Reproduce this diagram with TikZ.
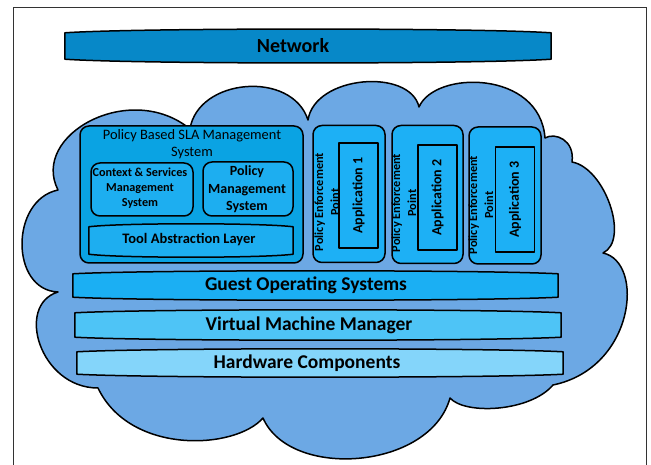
\documentclass[tikz,border=0pt]{standalone}
\usepackage{fontspec}
\setmainfont{Carlito}
\usetikzlibrary{calc}
\definecolor{cloudblue}{HTML}{6CA8E4}
\definecolor{netblue}{HTML}{0788C8}
\definecolor{slablue}{HTML}{0AA3E3}
\definecolor{innerblue}{HTML}{1DAEF0}
\definecolor{pepblue}{HTML}{1DB0F5}
\definecolor{gosblue}{HTML}{1BAFF3}
\definecolor{vmmblue}{HTML}{4EC4F6}
\definecolor{hwblue}{HTML}{84D5FA}
\newcommand\lensshape[3]{%
 \draw[outl, fill=#3] (#1.north west)
  .. controls ($(#1.north west)!0.15!(#1.north east)+(0,#2)$) and ($(#1.north west)!0.85!(#1.north east)+(0,#2)$) .. (#1.north east)
  -- (#1.south east)
  .. controls ($(#1.south west)!0.85!(#1.south east)+(0,-#2)$) and ($(#1.south west)!0.15!(#1.south east)+(0,-#2)$) .. (#1.south west)
  -- cycle;}
\tikzset{
 outl/.style={draw=black, line width=1.5pt, line join=round},
 frameline/.style={draw=black!80, line width=0.8pt},
 rbox/.style={outl, rounded corners=9pt, inner sep=0pt},
 bararea/.style={inner sep=0pt},
 bartext/.style={font=\bfseries\fontsize{19.5}{22}\selectfont, inner sep=0pt},
 smallbold/.style={font=\bfseries\fontsize{12.2}{15}\selectfont, align=center, inner sep=0pt},
 midtext/.style={font=\fontsize{14.4}{17.3}\selectfont, align=center, inner sep=0pt},
 appbox/.style={outl, fill=pepblue, rotate=90, minimum width=105pt, minimum height=39pt, inner sep=0pt, font=\bfseries\fontsize{14}{17}\selectfont},
 peptext/.style={rotate=90, font=\bfseries\fontsize{12.3}{16}\selectfont, inner sep=0pt}
}
\begin{document}
\begin{tikzpicture}[x=1pt,y=1pt]
\useasboundingbox (0,0) rectangle (651,-465);
\fill[white] (0,0) rectangle (651,-465);
% frame
\coordinate (fbl) at (13,-466);
\coordinate (ftl) at (13,-7);
\coordinate (ftr) at (646,-7);
\coordinate (fbr) at (646,-466);
\draw[frameline] (fbl) -- (ftl) -- (ftr) -- (fbr);
% network
\node[bararea, minimum width=486pt, minimum height=26pt] (netbar) at (308,-46) {};
\lensshape{netbar}{5}{netblue}
\node[bartext, font=\bfseries\fontsize{20}{22}\selectfont] (net) at (293,-46) {Network};
% cloud
\draw[outl, fill=cloudblue] (58,-190)
 .. controls (30,-135) and (130,-80) .. (190,-129)
 .. controls (198,-78) and (292,-70) .. (308,-120)
 .. controls (315,-75) and (410,-68) .. (419,-107)
 .. controls (435,-70) and (540,-70) .. (545,-138)
 .. controls (555,-132) and (575,-140) .. (572,-162)
 .. controls (605,-168) and (630,-240) .. (603,-253)
 .. controls (645,-262) and (635,-368) .. (553,-385)
 .. controls (530,-412) and (465,-415) .. (450,-398)
 .. controls (430,-470) and (290,-480) .. (263,-418)
 .. controls (235,-450) and (130,-455) .. (98,-388)
 .. controls (40,-388) and (15,-305) .. (58,-292)
 .. controls (10,-290) and (10,-200) .. (58,-190) -- cycle;
% SLA box
\node[rbox, fill=slablue, minimum width=223pt, minimum height=137pt] (sla) at (191.5,-194.5) {};
\node[midtext] (slat) at (192,-144) {Policy Based SLA Management\\System};
\node[rbox, fill=innerblue, minimum width=102pt, minimum height=53pt] (ctx) at (142,-189.5) {};
\node[smallbold] (ctxt) at (140,-188) {Context \& Services\\Management\\System};
\node[rbox, fill=innerblue, minimum width=90pt, minimum height=54pt] (pms) at (248,-189) {};
\node[midtext, font=\bfseries\fontsize{14}{17.5}\selectfont] (pmst) at (247,-189.5) {Policy\\Management\\System};
\node[bararea, minimum width=204pt, minimum height=27pt] (tal) at (191,-240.5) {};
\lensshape{tal}{4}{innerblue}
\node[bartext, font=\bfseries\fontsize{14.5}{17}\selectfont] (talt) at (189,-240) {Tool Abstraction Layer};
% PEP boxes
\node[rbox, fill=pepblue, minimum width=72pt, minimum height=137pt] (pep1) at (349,-194) {};
\node[rbox, fill=pepblue, minimum width=71pt, minimum height=138pt] (pep2) at (427.5,-194.5) {};
\node[rbox, fill=pepblue, minimum width=72pt, minimum height=137pt] (pep3) at (505,-195.5) {};
\node[appbox] (app1) at (358.5,-195.5) {Application 1};
\node[appbox] (app2) at (437.5,-197.5) {Application 2};
\node[appbox] (app3) at (515,-199.5) {Application 3};
\node[peptext] (pep1t) at (328,-202) {\begin{tabular}{@{}c@{}}Policy Enforcement\\Point\end{tabular}};
\node[peptext] (pep2t) at (405,-203) {\begin{tabular}{@{}c@{}}Policy Enforcement\\Point\end{tabular}};
\node[peptext] (pep3t) at (482,-205) {\begin{tabular}{@{}c@{}}Policy Enforcement\\Point\end{tabular}};
% layer bars
\node[bararea, minimum width=485pt, minimum height=23pt] (gosbar) at (315.5,-285.5) {};
\lensshape{gosbar}{4}{gosblue}
\node[bartext] (gos) at (306,-285) {Guest Operating Systems};
\node[bararea, minimum width=486pt, minimum height=24pt] (vmmbar) at (318,-325) {};
\lensshape{vmmbar}{4}{vmmblue}
\node[bartext] (vmm) at (309,-325) {Virtual Machine Manager};
\node[bararea, minimum width=486pt, minimum height=22pt] (hwbar) at (320,-363) {};
\lensshape{hwbar}{4}{hwblue}
\node[bartext] (hw) at (307,-363) {Hardware Components};
\end{tikzpicture}
\end{document}
